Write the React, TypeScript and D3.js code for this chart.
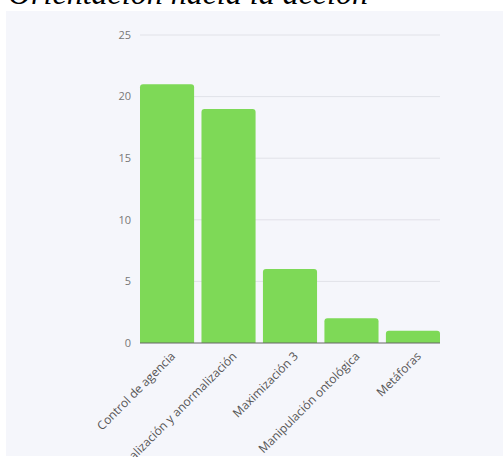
import React from "react";
import * as d3 from "d3";

const categories = [
  "Control de agencia",
  "Normalización y anormalización",
  "Maximización 3",
  "Manipulación ontológica",
  "Metáforas",
];
const values = [21, 19, 6, 2, 1];
const yTicks = [0, 5, 10, 15, 20, 25];
const title = "Orientación hacia la acción";

export default function App() {
  const W = 503;
  const H = 457;
  const x = d3
    .scaleBand<string>()
    .domain(categories)
    .range([140, 440])
    .paddingInner(0.12)
    .paddingOuter(0);
  const y = d3.scaleLinear().domain([0, 25]).range([343, 35]);
  const r = 3;
  const barPath = (x0: number, y0: number, w: number, h: number) => {
    const rr = Math.min(r, h);
    return `M${x0},${y0 + h}V${y0 + rr}Q${x0},${y0} ${x0 + rr},${y0}H${x0 + w - rr}Q${x0 + w},${y0} ${x0 + w},${y0 + rr}V${y0 + h}Z`;
  };
  return (
    <svg
      width={W}
      height={H}
      style={{ position: "absolute", left: 0, top: 0, display: "block" }}
    >
      <rect x={0} y={0} width={W} height={H} fill="#ffffff" />
      <rect x={6} y={11} width={W - 6} height={H - 12} fill="#f5f6fb" />
      <text
        x={8}
        y={4}
        fontFamily="'Liberation Serif', 'Times New Roman', serif"
        fontStyle="italic"
        fontSize={32}
        fill="#000"
      >
        {title}
      </text>
      {yTicks.map((t) => (
        <g key={t}>
          {t !== 0 && (
            <line
              x1={140}
              x2={440}
              y1={y(t)}
              y2={y(t)}
              stroke="#e1e2e8"
              strokeWidth={1}
            />
          )}
          <text
            x={131}
            y={y(t)}
            dy="0.35em"
            textAnchor="end"
            fontFamily="'Open Sans', sans-serif"
            fontSize={11}
            fill="#777"
          >
            {t}
          </text>
        </g>
      ))}
      {categories.map((c, i) => {
        const x0 = x(c)!;
        const w = x.bandwidth();
        const y0 = y(values[i]);
        return (
          <path
            key={c}
            d={barPath(x0, y0, w, y(0) - y0)}
            fill="#7ed957"
          />
        );
      })}
      <line x1={140} x2={440} y1={y(0)} y2={y(0)} stroke="#666" strokeWidth={1} />
      {categories.map((c) => {
        const cx = x(c)! + x.bandwidth() / 2;
        return (
          <text
            key={c}
            transform={`translate(${cx + 6},${354}) rotate(-45)`}
            textAnchor="end"
            dy="0.35em"
            fontFamily="'Open Sans', sans-serif"
            fontSize={12}
            fill="#555"
          >
            {c}
          </text>
        );
      })}
    </svg>
  );
}
